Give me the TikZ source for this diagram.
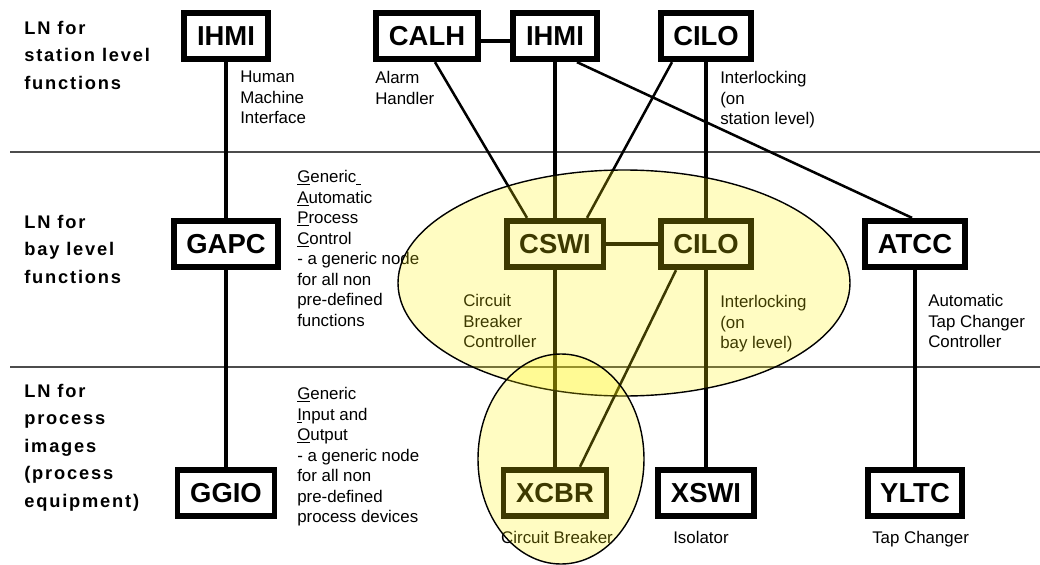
\documentclass[tikz,border=0pt]{standalone}
\usepackage{fontspec}
\setmainfont{Liberation Sans}
\newfontfamily\lnfont[LetterSpace=10]{Liberation Sans}
\usepackage{tikz}
\usetikzlibrary{positioning}

\begin{document}
\begin{tikzpicture}[
    x=0.025cm, y=-0.025cm,
    lnbox/.style={draw, line width=4.2pt, fill=white, inner xsep=9pt, minimum height=33pt, font=\fontsize{19.5}{20}\selectfont\bfseries},
    lnedge/.style={line width=2.8pt},
    lnlink/.style={line width=1.8pt},
    levelname/.style={anchor=north west, inner sep=0pt, align=left, font=\lnfont\bfseries\fontsize{13}{19.5}\selectfont},
    desc/.style={anchor=north west, inner sep=0pt, align=left, font=\fontsize{12}{14.6}\selectfont},
    sep/.style={line width=1pt, black!70},
    zone/.style={draw, line width=1pt, fill=yellow, fill opacity=0.24}
]
\useasboundingbox (0,0) rectangle (1040,565);

% levels
\draw[sep] (10,152) -- (1040,152);
\draw[sep] (10,367) -- (1040,367);
\node[levelname] (station) at (24,21) {LN for\\station level\\functions};
\node[levelname] (bay) at (24,215) {LN for\\bay level\\functions};
\node[levelname] (process) at (24,384) {LN for\\process\\images\\(process\\equipment)};

% logical nodes
\node[lnbox] (IHMIa) at (226,36) {IHMI};
\node[lnbox] (CALH) at (427,36) {CALH};
\node[lnbox] (IHMIb) at (555,36) {IHMI};
\node[lnbox] (CILOa) at (706,36) {CILO};
\node[lnbox] (GAPC) at (226,244) {GAPC};
\node[lnbox] (CSWI) at (555,244) {CSWI};
\node[lnbox] (CILOb) at (706,244) {CILO};
\node[lnbox] (ATCC) at (915,244) {ATCC};
\node[lnbox] (GGIO) at (226,493) {GGIO};
\node[lnbox] (XCBR) at (555,493) {XCBR};
\node[lnbox] (XSWI) at (706,493) {XSWI};
\node[lnbox] (YLTC) at (915,493) {YLTC};

% connections
\draw[lnedge] (IHMIa) -- (GAPC);
\draw[lnedge] (GAPC) -- (GGIO);
\draw[lnedge] ([shift={(0,5)}]CALH.east) -- ([shift={(0,5)}]IHMIb.west);
\draw[lnedge] (IHMIb) -- (CSWI);
\draw[lnedge] (CSWI) -- (XCBR);
\draw[lnedge] (CILOa) -- (CILOb);
\draw[lnedge] (CILOb) -- (XSWI);
\draw[lnedge] (ATCC) -- (YLTC);
\draw[lnedge] (CSWI) -- (CILOb);
\draw[lnlink] ([shift={(8,0)}]CALH.south) -- ([shift={(-28,0)}]CSWI.north);
\draw[lnlink] ([shift={(-34,0)}]CILOa.south) -- ([shift={(32,0)}]CSWI.north);
\draw[lnlink] ([shift={(22,0)}]IHMIb.south) -- ([shift={(-3,0)}]ATCC.north);
\draw[lnlink] ([shift={(-30,0)}]CILOb.south) -- ([shift={(25,0)}]XCBR.north);

% descriptions
\node[desc] (hmi) at (240,71) {Human\\Machine\\Interface};
\node[desc] (alarm) at (375,71) {Alarm\\Handler};
\node[desc] (ilsta) at (720,71) {Interlocking\\(on\\station level)};
\node[desc] (gapcd) at (297,170) {\underline{G}eneric\underline{\ }\\\underline{A}utomatic\\\underline{P}rocess\\\underline{C}ontrol\\- a generic node\\for all non\\pre-defined\\functions};
\node[desc] (cbc) at (463,294) {Circuit\\Breaker\\Controller};
\node[desc] (ilbay) at (720,295) {Interlocking\\(on\\bay level)};
\node[desc] (atc) at (928,294) {Automatic\\Tap Changer\\Controller};
\node[desc] (ggiod) at (297,387) {\underline{G}eneric\\\underline{I}nput and\\\underline{O}utput\\- a generic node\\for all non\\pre-defined\\process devices};
\node[desc, anchor=north] (cb) at (557,531) {Circuit Breaker};
\node[desc] (iso) at (673,531) {Isolator};
\node[desc] (tap) at (872,531) {Tap Changer};

% bay and process groups
\draw[zone] (624,283) ellipse [x radius=226, y radius=113];
\draw[zone] (561,459) ellipse [x radius=83, y radius=105];
\end{tikzpicture}
\end{document}
